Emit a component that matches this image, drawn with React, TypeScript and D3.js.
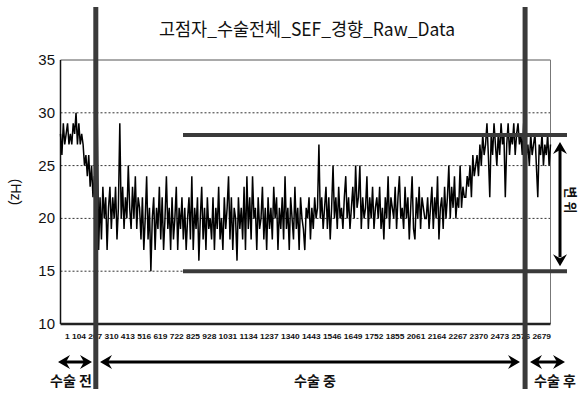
import React from "react";
import * as d3 from "d3";

// ---- data ----
const title = "고점자_수술전체_SEF_경향_Raw_Data";
const yTicks = [10, 15, 20, 25, 30, 35];
const gridValues = [15, 20, 25, 30];
const xTickLabels = [
  "1", "104", "207", "310", "413", "516", "619", "722", "825", "928", "1031", "1134",
  "1237", "1340", "1443", "1546", "1649", "1752", "1855", "2061", "2164", "2267",
  "2370", "2473", "2576", "2679",
];
const phaseLabels = ["수술 전", "수술 중", "수술 후"];
const bandLabel = "변 위";
const bandUpper = 27.9;
const bandLower = 15;

// SEF (Hz) before surgery
const preOpSef = [
  28, 26, 29, 27, 28, 29, 27, 28, 27, 29, 28, 30, 27, 29, 27, 28,
  27, 25, 26, 24, 26, 23, 25, 22, 24,
];
// SEF (Hz) during surgery
const intraOpSef = [
  21, 30, 17,
  22, 18, 23, 20, 22, 17, 21, 23, 19, 22, 20, 23, 18, 21, 29, 20, 23, 19, 22, 20,
  25, 21, 19, 23, 20, 24, 19, 22,
  21, 18, 22, 17, 20, 24, 18, 21, 15, 20, 22, 17, 21, 19, 23, 18, 22, 17, 20, 24,
  19, 21, 17, 22, 18, 20, 23, 17, 21, 19,
  22, 18, 21, 17, 20, 22, 18, 24, 17, 21, 19, 22, 16, 20, 23, 18, 21, 17, 22, 19,
  20, 18, 22, 17, 21, 19, 23, 18, 20, 17, 22, 19, 21, 24, 18, 22, 17, 21, 20, 16,
  22, 19, 21, 18, 23, 17, 24, 19, 22, 18, 24, 20, 21, 17, 22, 19, 20, 23, 18, 21,
  17, 22, 19, 21, 18, 23, 20, 22, 17, 21, 19, 22, 18, 24, 19, 21, 17, 22, 20, 18,
  23, 19, 21, 17, 22, 20, 19,
  17, 21, 20, 22, 18, 21, 19, 22, 20, 21, 27, 20, 22, 19, 21, 23, 19, 22, 18, 21,
  25, 20, 22, 19, 23, 20, 21, 19, 22, 24, 20, 22, 19, 21, 23, 20, 25, 21, 22, 25,
  19, 22, 20, 21, 24, 19, 22, 20, 23, 19, 21, 22, 20, 23, 19, 21, 18, 22, 20, 24,
  19, 22, 21, 20, 23, 19, 22, 24, 20, 21, 19, 23, 20, 22, 18, 21, 24, 19, 18, 22,
  20, 23, 19, 22, 21, 20,
  20, 22, 19, 21, 23, 19, 22, 20, 24, 18, 21, 22, 19, 23, 20, 22, 25, 20, 23, 21,
  24, 20, 22, 21, 25, 21, 23, 22,
  22, 24, 23, 25, 22, 26, 24, 25, 26, 24, 27, 25, 28, 26,
  27, 29, 26, 22, 28, 26, 29, 27, 25, 28, 26, 29, 27, 28, 22, 27, 29, 26, 28, 27,
  29, 26, 28, 29, 27, 28, 26, 29,
];
// SEF (Hz) after surgery
const postOpSef = [28, 26, 27, 25, 28, 26, 27, 28, 25, 22, 27, 26, 28, 25, 27, 26, 28, 25, 27];

const W = 580;
const H = 396;
const plot = { left: 60.5, right: 550.5, top: 60, bottom: 324 };
const annoColor = "#3a3a3a";

function ArrowHead({ x, y, dir }: { x: number; y: number; dir: "l" | "r" | "u" | "d" }) {
  const L = 12, Wd = 7, N = 4;
  const pts: [number, number][] = [[0, 0], [L, -Wd], [L - N, 0], [L, Wd]];
  const rot = { l: 0, r: 180, u: 90, d: -90 }[dir];
  const a = (rot * Math.PI) / 180;
  const p = pts.map(([px, py]) => [x + px * Math.cos(a) - py * Math.sin(a), y + px * Math.sin(a) + py * Math.cos(a)]);
  return <polygon points={p.map((q) => q.join(",")).join(" ")} fill="#000" />;
}

function HArrow({ x1, x2, y }: { x1: number; x2: number; y: number }) {
  return (
    <g>
      <line x1={x1 + 8} x2={x2 - 8} y1={y} y2={y} stroke="#000" strokeWidth={3} />
      <ArrowHead x={x1} y={y} dir="l" />
      <ArrowHead x={x2} y={y} dir="r" />
    </g>
  );
}

export default function App() {
  const series = [...preOpSef, ...intraOpSef, ...postOpSef];
  const x = d3.scaleLinear().domain([0, series.length - 1]).range([plot.left, plot.right]);
  const y = d3.scaleLinear().domain([10, 35]).range([plot.bottom, plot.top]);
  const line = d3
    .line<number>()
    .x((_, i) => x(i))
    .y((d) => y(d));
  const b1 = x(preOpSef.length);
  const b2 = x(preOpSef.length + intraOpSef.length);
  const arrowY = 362;
  const labelY = 386;

  return (
    <svg width={W} height={H} style={{ position: "fixed", left: 0, top: 0, background: "#fff" }}>
      <rect x={0} y={0} width={W} height={H} fill="#fff" />
      <text
        x={307}
        y={36}
        textAnchor="middle"
        fontFamily="'Noto Sans CJK KR', sans-serif"
        fontSize={18}
        textLength={296}
        lengthAdjust="spacingAndGlyphs"
        fill="#111"
      >
        {title}
      </text>

      {/* grid */}
      {gridValues.map((v) => (
        <line key={v} x1={plot.left} x2={plot.right} y1={y(v)} y2={y(v)} stroke="#333" strokeWidth={1} strokeDasharray="2,2" />
      ))}
      {/* frame */}
      <line x1={plot.left} x2={plot.right} y1={plot.top} y2={plot.top} stroke="#555" strokeWidth={1} />
      <line x1={plot.right} x2={plot.right} y1={plot.top} y2={plot.bottom} stroke="#777" strokeWidth={1} />
      <line x1={plot.left} x2={plot.left} y1={plot.top} y2={plot.bottom} stroke="#111" strokeWidth={1.5} />
      <line x1={plot.left} x2={plot.right} y1={plot.bottom} y2={plot.bottom} stroke="#222" strokeWidth={2.5} />

      {/* y ticks */}
      {yTicks.map((v) => (
        <text key={v} x={55} y={y(v) + 5} textAnchor="end" fontFamily="'Liberation Sans', Arial, sans-serif" fontSize={15} fill="#111">
          {v}
        </text>
      ))}
      <text
        transform={`translate(11,192) rotate(90)`}
        textAnchor="middle"
        fontFamily="'Liberation Sans', Arial, sans-serif"
        fontSize={14}
        fill="#111"
      >
        (Hz)
      </text>

      {/* x tick labels */}
      <text
        x={65}
        y={339}
        fontFamily="'Liberation Sans', Arial, sans-serif"
        fontWeight="bold"
        fontSize={8}
        textLength={486}
        lengthAdjust="spacingAndGlyphs"
        fill="#111"
      >
        {xTickLabels.join(" ")}
      </text>

      {/* data */}
      <path d={line(series) ?? ""} fill="none" stroke="#000" strokeWidth={1.5} strokeLinejoin="miter" />

      {/* displacement band lines */}
      <line x1={183} x2={567} y1={y(bandUpper)} y2={y(bandUpper)} stroke={annoColor} strokeWidth={4} />
      <line x1={183} x2={567} y1={y(bandLower)} y2={y(bandLower)} stroke={annoColor} strokeWidth={4} />
      <line x1={560} x2={560} y1={y(bandUpper) + 14} y2={y(bandLower) - 14} stroke="#000" strokeWidth={3} />
      <ArrowHead x={560} y={y(bandUpper) + 7} dir="u" />
      <ArrowHead x={560} y={y(bandLower) - 5} dir="d" />
      <text
        transform={`translate(566,200) rotate(90)`}
        textAnchor="middle"
        fontFamily="'Noto Sans CJK KR', sans-serif"
        fontWeight="bold"
        fontSize={13}
        fill="#111"
      >
        {bandLabel}
      </text>

      {/* phase boundaries */}
      <line x1={b1} x2={b1} y1={7} y2={389} stroke={annoColor} strokeWidth={5} />
      <line x1={b2} x2={b2} y1={7} y2={389} stroke={annoColor} strokeWidth={5} />

      {/* phase arrows */}
      <HArrow x1={58} x2={92} y={arrowY} />
      <HArrow x1={100} x2={520} y={arrowY} />
      <HArrow x1={530} x2={565} y={arrowY} />
      {phaseLabels.map((t, i) => (
        <text
          key={t}
          x={[71, 315, 555][i]}
          y={labelY}
          textAnchor="middle"
          fontFamily="'Noto Sans CJK KR', sans-serif"
          fontWeight="bold"
          fontSize={14}
          fill="#111"
        >
          {t}
        </text>
      ))}
    </svg>
  );
}
